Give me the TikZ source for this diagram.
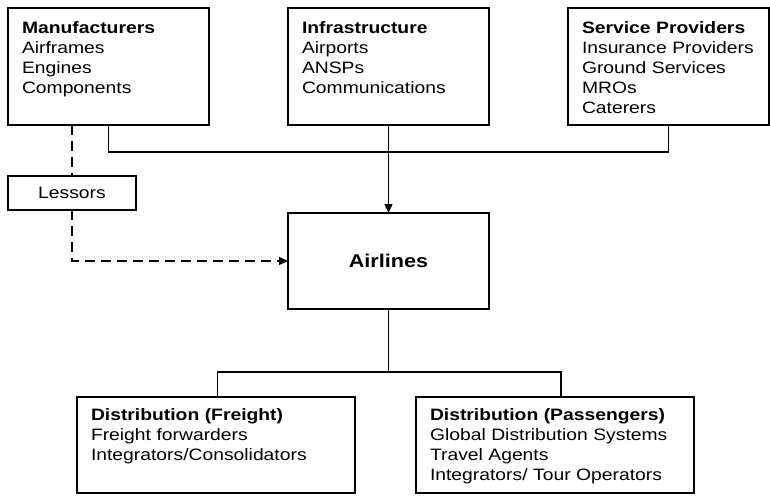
\documentclass[tikz,border=0pt]{standalone}
\usepackage{fontspec}
\setmainfont{Liberation Sans}[FakeStretch=1.17]
\usetikzlibrary{positioning,arrows.meta}
\tikzset{
>={Triangle[length=9pt,width=8pt]},
  group/.style={
    rectangle,
    draw=black, line width=1.2pt,
    text width=173pt,
    inner sep=0pt, inner xsep=14pt, outer sep=0pt,
    text height=25pt, text depth=92pt,
    align=left,
    anchor=north west},
  dist/.style={group, text width=250pt, text height=23pt, text depth=73pt},
  plainbox/.style={
    rectangle,
    draw=black, line width=1.2pt,
    inner sep=0pt, outer sep=0pt,
    align=center},
  line/.style={draw, line width=1.2pt},
  dashline/.style={draw, line width=1.2pt, dash pattern=on 10pt off 6pt},
}
\begin{document}
\begin{tikzpicture}[x=1pt, y=-1pt, font=\fontsize{16.5}{20}\selectfont]
  \useasboundingbox (0,0) rectangle (770,501);
  \node[group] (manu) at (8,8) {\textbf{Manufacturers}\\Airframes\\Engines\\Components};
  \node[group, right=79pt of manu] (infra) {\textbf{Infrastructure}\\Airports\\ANSPs\\Communications};
  \node[group, right=79pt of infra] (serv) {\textbf{Service Providers}\\Insurance Providers\\Ground Services\\MROs\\Caterers};
  \node[plainbox, minimum width=128pt, minimum height=34pt] (lessors) at (72,193) {Lessors};
  \node[plainbox, minimum width=201pt, minimum height=96pt, font=\fontsize{18.5}{20}\selectfont\bfseries] (airlines) at (388.5,261) {Airlines};
  \node[dist] (freight) at (77,397) {\textbf{Distribution (Freight)}\\Freight forwarders\\Integrators/Consolidators};
  \node[dist] (pass) at (416,397) {\textbf{Distribution (Passengers)}\\Global Distribution Systems\\Travel Agents\\Integrators/ Tour Operators};

  % suppliers into the airlines
  \coordinate (bus) at (388.5,152);
  \path[line] (manu.south) |- (bus) -| (serv.south);
  \path[line, ->] (infra.south) -- (airlines.north);
  \path[dashline] (manu.south -| lessors.north) -- (lessors.north);
  \path[dashline, ->] (lessors.south) |- (airlines.west);

  % distribution
  \coordinate (split) at (388.5,372);
  \path[line] (airlines.south) -- (split);
  \path[line] ([xshift=1.5pt]freight.north) |- (split) -| ([xshift=6pt]pass.north);
\end{tikzpicture}
\end{document}
